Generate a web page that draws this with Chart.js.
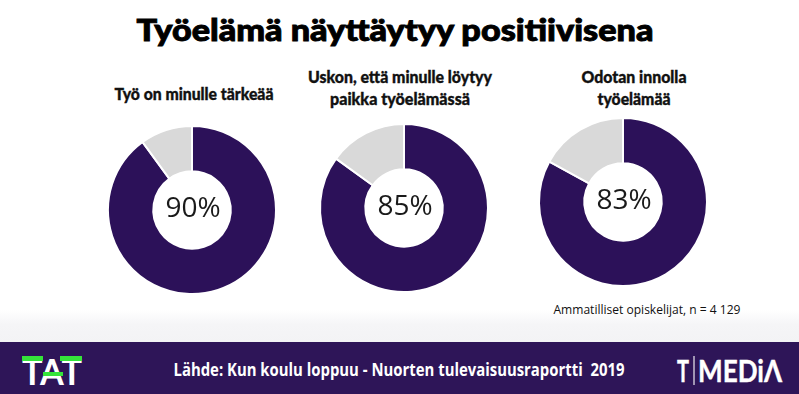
<!DOCTYPE html>
<html lang="fi">
<head>
<meta charset="utf-8">
<script src="https://cdn.jsdelivr.net/npm/chart.js@4.4.0/dist/chart.umd.min.js"></script>
<style>
  html, body { margin: 0; padding: 0; }
  body { width: 799px; height: 394px; position: relative; overflow: hidden; background: #ffffff; }
  .t { position: absolute; white-space: pre; line-height: 1; transform-origin: 50% 50%; }
  .chart { position: absolute; width: 180px; height: 180px; }
  #band { position: absolute; left: 0; top: 342px; width: 799px; height: 52px; background: #2e1558; }
  #shade { position: absolute; left: 0; top: 310px; width: 799px; height: 32px;
           background: linear-gradient(#ffffff, #f5f5f7 45%, #f3f3f5); }
  .bar { position: absolute; background: #35e43a; }
</style>
</head>
<body>
<script>
// ---- data ----
const questions = [
  ["Työ on minulle tärkeää"],
  ["Uskon, että minulle löytyy", "paikka työelämässä"],
  ["Odotan innolla", "työelämää"]
];
const agreeValues = [90, 85, 83];
const otherValues = [10, 15, 17];
const sliceLabels = ["Samaa mieltä", "Muut"];
const titleText = "Työelämä näyttäytyy positiivisena";
const noteText = "Ammatilliset opiskelijat, n = 4 129";
const sourceText = "Lähde: Kun koulu loppuu - Nuorten tulevaisuusraportti  2019";

// ---- layout ----
const centers = [[192, 210], [404, 208], [623, 202]];
const subPos = [
  [[193.5, 92.5, 159]],
  [[400, 76, 184], [400, 97.5, 140]],
  [[633.5, 76, 105], [633.5, 97.5, 73]]
];
const PURPLE = "#2c1159";
const GREY = "#d9d9d9";

const body = document.body;
const shade = document.createElement("div"); shade.id = "shade"; body.appendChild(shade);
const band = document.createElement("div"); band.id = "band"; body.appendChild(band);

const fitList = [];
function addText(txt, cx, cy, w, font, color, stroke) {
  const d = document.createElement("div");
  d.className = "t";
  d.textContent = txt;
  d.style.font = font;
  d.style.color = color;
  d.style.left = cx + "px";
  d.style.top = cy + "px";
  if (stroke) d.style.webkitTextStroke = stroke + "px " + color;
  body.appendChild(d);
  fitList.push([d, w]);
  return d;
}

addText(titleText, 394.5, 28.5, 517, "900 30px Lato", "#000", 0.9);
questions.forEach((lines, i) => {
  lines.forEach((ln, j) => {
    const p = subPos[i][j];
    addText(ln, p[0], p[1], p[2], "900 16px Lato", "#111", 0.35);
  });
});
addText(noteText, 646.5, 309, 187, "400 13px 'Open Sans'", "#111");
addText(sourceText, 398.5, 368.5, 451, "700 18px 'Open Sans'", "#fff");

// TAT logo
addText("TAT", 52, 369.5, 60, "700 37px Lato", "#fff");
// T|MEDIA logo
addText("T", 682.5, 369.5, 12, "700 30px Lato", "#fff", 0.4);
addText("MEDiΛ", 740, 369.5, 84, "700 30px Lato", "#fff", 0.4);
const div = document.createElement("div");
div.style.cssText = "position:absolute;left:693px;top:356px;width:1.5px;height:29px;background:rgba(255,255,255,0.55)";
body.appendChild(div);
[[22, 356, 21, 5], [60, 356, 22, 5], [43, 372, 20, 4]].forEach(b => {
  const e = document.createElement("div");
  e.className = "bar";
  e.style.left = b[0] + "px"; e.style.top = b[1] + "px";
  e.style.width = b[2] + "px"; e.style.height = b[3] + "px";
  body.appendChild(e);
});

function fitAll() {
  fitList.forEach(([d, w]) => {
    d.style.transform = "none";
    const nat = d.getBoundingClientRect().width;
    d.style.transform = "translate(-50%,-50%) scaleX(" + (w / nat) + ")";
  });
}
fitAll();
if (document.fonts && document.fonts.ready) document.fonts.ready.then(fitAll);

// ---- charts ----
const centerText = {
  id: "centerText",
  afterDraw(chart) {
    const arc = chart.getDatasetMeta(0).data[0];
    const ctx = chart.ctx;
    ctx.save();
    ctx.font = "400 28px 'Open Sans'";
    ctx.fillStyle = "#1a1a1a";
    ctx.textAlign = "center";
    ctx.textBaseline = "middle";
    ctx.fillText(chart.data.datasets[0].data[0] + "%", arc.x + 1, arc.y - 1);
    ctx.restore();
  }
};

centers.forEach((c, i) => {
  const cv = document.createElement("canvas");
  cv.className = "chart";
  cv.width = 180; cv.height = 180;
  cv.style.left = (c[0] - 90) + "px";
  cv.style.top = (c[1] - 90) + "px";
  body.appendChild(cv);
  new Chart(cv, {
    type: "doughnut",
    data: {
      labels: sliceLabels,
      datasets: [{
        data: [agreeValues[i], otherValues[i]],
        backgroundColor: [PURPLE, GREY],
        borderColor: "#ffffff",
        borderWidth: 2
      }]
    },
    options: {
      responsive: false,
      animation: false,
      events: [],
      radius: 84,
      cutout: 41,
      layout: { padding: 0 },
      plugins: { legend: { display: false }, tooltip: { enabled: false } }
    },
    plugins: [centerText]
  });
});
</script>
</body>
</html>
